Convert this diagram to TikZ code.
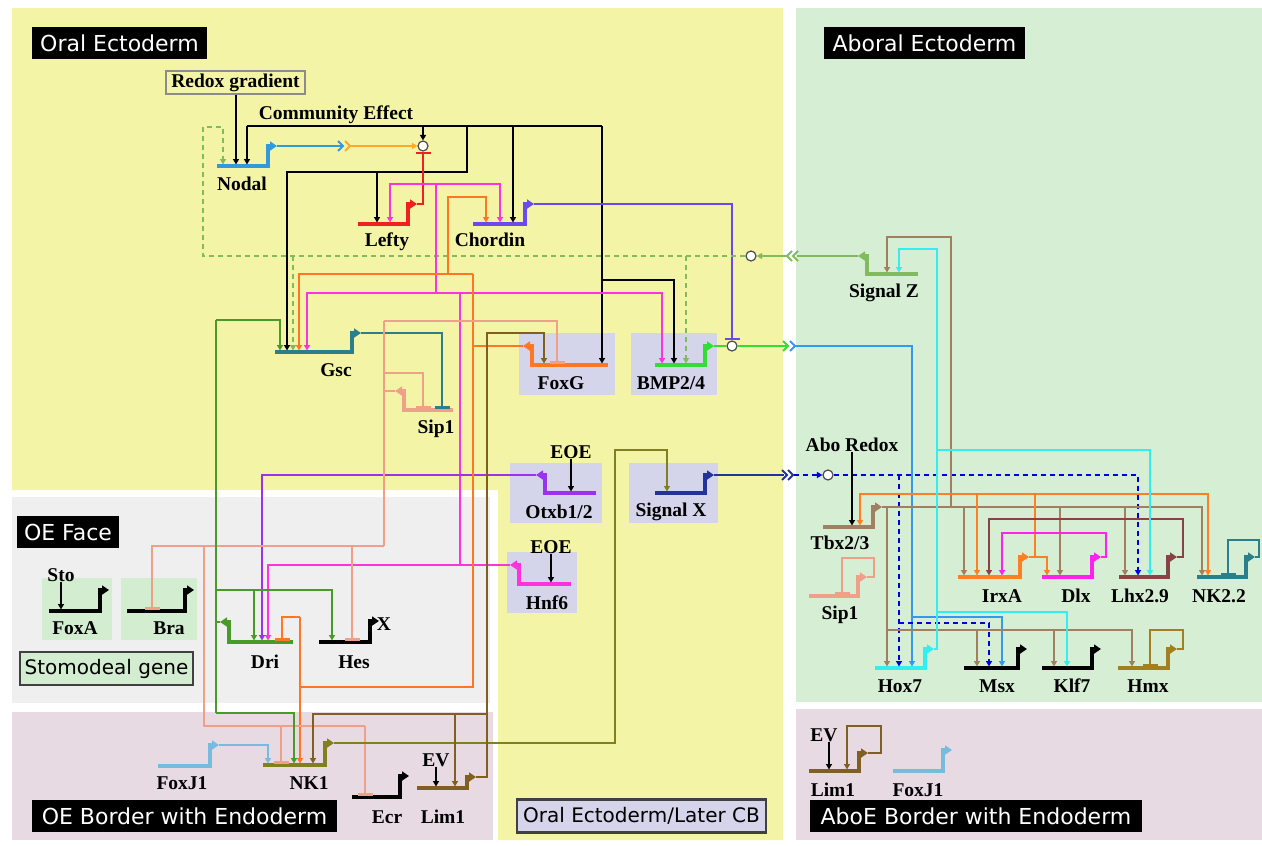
\documentclass[tikz,border=0pt]{standalone}
\usepackage{fontspec}
\setmainfont{Liberation Serif}
\newfontfamily\hdrfont{DejaVu Sans}
\usetikzlibrary{arrows.meta}
\definecolor{oebg}{HTML}{F4F4A6}
\definecolor{abobg}{HTML}{D6EED3}
\definecolor{facebg}{HTML}{EFEFEF}
\definecolor{bordbg}{HTML}{E8DAE3}
\definecolor{lav}{HTML}{D4D4EA}
\definecolor{boxgreen}{HTML}{D3EDD0}
\definecolor{cNodal}{HTML}{3399DD}
\definecolor{cNodalOr}{HTML}{FFAA22}
\definecolor{cLefty}{HTML}{EE2020}
\definecolor{cChordin}{HTML}{6A4AEE}
\definecolor{cGsc}{HTML}{2A7F8A}
\definecolor{cSip}{HTML}{F0A088}
\definecolor{cFoxG}{HTML}{FF7722}
\definecolor{cBmp}{HTML}{33DD33}
\definecolor{cBlue}{HTML}{3399EE}
\definecolor{cOtx}{HTML}{9933EE}
\definecolor{cSigX}{HTML}{223399}
\definecolor{cSigXd}{HTML}{0000DD}
\definecolor{cHnf}{HTML}{FF33DD}
\definecolor{cDri}{HTML}{4A9A2A}
\definecolor{cNK}{HTML}{808020}
\definecolor{cLim}{HTML}{806020}
\definecolor{cFoxJ}{HTML}{77BBDD}
\definecolor{cSigZ}{HTML}{80BB60}
\definecolor{cTbx}{HTML}{A08060}
\definecolor{cHox}{HTML}{33EEEE}
\definecolor{cIrx}{HTML}{FF7F22}
\definecolor{cDlx}{HTML}{FF22EE}
\definecolor{cLhx}{HTML}{884444}
\definecolor{cHmx}{HTML}{A08020}
\tikzset{
 link/.style={line width=2.1pt},
 act/.style={link,-{Triangle[length=5.5pt,width=6pt]}},
 rep/.style={link,-{Bar[width=15pt,line width=2.8pt]}},
 dlink/.style={dash pattern=on 5pt off 4pt},
 thinl/.style={line width=1.6pt},
 genebar/.style={line width=4pt,-{Triangle[length=7pt,width=9pt]}},
 glab/.style={font=\bfseries\fontsize{19.5}{20}\selectfont,inner sep=0pt},
 hdr/.style={fill=black,text=white,font=\hdrfont\fontsize{22}{23}\selectfont,inner sep=0pt,minimum height=32pt},
 lbox/.style={draw=black!75,line width=2.2pt,font=\hdrfont\fontsize{20}{21}\selectfont,inner sep=0pt,minimum height=33pt},
 bub/.style={circle,draw=black!70,fill=white,line width=1.2pt,minimum size=10pt,inner sep=0pt},
}
\newcommand\geneR[6]{%
 \draw[genebar,#2] (#3,#5) -- (#4,#5) -- (#4,#6) -- ++(9,0);
 \coordinate (#1) at (#3,{#5-1.5});
 \path (#4,#6) ++(9,0) coordinate (#1-tip);}
\newcommand\geneL[6]{%
 \draw[genebar,#2] (#4,#5) -- (#3,#5) -- (#3,#6) -- ++(-9,0);
 \coordinate (#1) at (#3,{#5-1.5});
 \path (#3,#6) ++(-9,0) coordinate (#1-tip);}
\begin{document}
\begin{tikzpicture}[x=1pt,y=-1pt,line join=miter]
\useasboundingbox (0,0) rectangle (1262,846);
\fill[white] (0,0) rectangle (1262,846);
% regions
\fill[oebg] (12,8) -- (783,8) -- (783,840) -- (498,840) -- (498,490) -- (12,490) -- cycle;
\fill[facebg] (12,497) rectangle (490,703);
\fill[bordbg] (12,712) rectangle (493,840);
\fill[abobg] (796,8) rectangle (1262,702);
\fill[bordbg] (796,709) rectangle (1262,840);
% shaded gene boxes
\fill[lav] (519,333) rectangle (615,395);
\fill[lav] (631,333) rectangle (717,395);
\fill[lav] (510,463) rectangle (602,523);
\fill[lav] (629,463) rectangle (718,523);
\fill[lav] (507,552) rectangle (577,613);
\fill[boxgreen] (42,578) rectangle (112,640);
\fill[boxgreen] (121,578) rectangle (197,640);
% headers
\node[hdr,minimum width=175pt] (h-oe) at (119.5,43) {Oral Ectoderm};
\node[hdr,minimum width=201pt] (h-abo) at (924.5,43) {Aboral Ectoderm};
\node[hdr,minimum width=102pt] (h-face) at (68,532) {OE Face};
\node[hdr,minimum width=305pt] (h-bord) at (184.5,816) {OE Border with Endoderm};
\node[hdr,minimum width=332pt] (h-abord) at (976,816) {AboE Border with Endoderm};
\node[lbox,fill=boxgreen,minimum width=173pt] (h-sto) at (106.5,668.5) {Stomodeal gene};
\node[lbox,fill=lav,minimum width=249pt] (h-cb) at (641.5,816) {Oral Ectoderm/Later CB};
% genes
\geneR{nodal}{cNodal}{217}{268}{166}{146}
\geneR{lefty}{cLefty}{358}{408}{224}{204}
\geneR{chordin}{cChordin}{473}{525}{224}{204}
\geneR{gsc}{cGsc}{275}{352}{352}{333}
\geneL{sip1o}{cSip}{404}{453}{410}{391}
\geneL{foxg}{cFoxG}{532}{608}{365}{346}
\geneR{bmp}{cBmp}{655}{705}{365}{346}
\geneL{otx}{cOtx}{545}{596}{493}{475}
\geneR{sigx}{cSigX}{655}{705}{493}{475}
\geneL{hnf6}{cHnf}{519}{571}{584}{565}
\geneR{foxa}{black}{49}{100}{611}{590}
\geneR{bra}{black}{127}{185}{611}{590}
\geneL{dri}{cDri}{229}{293}{642}{622}
\geneR{hes}{black}{319}{370}{642}{621}
\geneR{nk1}{cNK}{263}{325}{765}{743}
\geneR{foxj1o}{cFoxJ}{158}{210}{766}{745}
\geneR{ecr}{black}{352}{400}{797}{776}
\geneR{lim1o}{cLim}{417}{467}{788}{777}
\geneL{sigz}{cSigZ}{867}{918}{274}{256}
\geneR{tbx}{cTbx}{823}{873}{527}{507}
\geneR{sip1a}{cSip}{809}{858}{596}{577}
\geneR{irxa}{cIrx}{958}{1020}{577}{557}
\geneR{dlx}{cDlx}{1042}{1092}{577}{557}
\geneR{lhx}{cLhx}{1119}{1168}{577}{557}
\geneR{nk22}{cGsc}{1197}{1246}{577}{557}
\geneR{hox7}{cHox}{875}{925}{668}{649}
\geneR{msx}{black}{964}{1018}{668}{649}
\geneR{klf7}{black}{1042}{1092}{668}{649}
\geneR{hmx}{cHmx}{1118}{1168}{668}{649}
\geneR{lim1a}{cLim}{809}{859}{771}{753}
\geneR{foxj1a}{cFoxJ}{893}{943}{771}{750}
% bubbles
\node[bub] (bub1) at (423,146) {};
\node[bub] (bub2) at (732,346) {};
\node[bub] (bub3) at (751,256) {};
\node[bub] (bub4) at (828,475) {};
% inputs from environment
\node[draw=black!45,line width=2.4pt,fill=oebg,glab,minimum width=139pt,minimum height=23pt] (redox) at (235.5,82.5) {Redox gradient};
\draw[act] (redox.south-|236,0) -- (236,0|-nodal);
\node[glab] (ce) at (336,115) {Community Effect};
\coordinate (ceL) at (247,126);
\draw[link] (ceL) -- (602,126);
\draw[act] (ceL) -- (247,0|-nodal);
\draw[act] (423,126) -- (bub1.north);
\draw[act] (467,126) -- (467,172) -- (287,172) -- (287,0|-gsc);
\draw[act] (377,172) -- (377,0|-lefty);
\draw[act] (513,126) -- (513,0|-chordin);
\draw[act] (602,126) -- (602,0|-foxg);
\draw[act] (602,280) -- (674,280) -- (674,0|-bmp);
% Nodal out
\draw[link,cNodal] (nodal-tip) -- (342,146);
\draw[link,cNodal] (338,141) -- (343,146) -- (338,151);
\draw[link,cNodalOr] (345,141) -- (350,146) -- (345,151);
\draw[act,cNodalOr] (350,146) -- (bub1.west);
% Lefty out
\draw[rep,cLefty] (lefty-tip) -- (423,204) -- (bub1.south);
% Chordin out
\draw[rep,cChordin] (chordin-tip) -- (732,204) -- (bub2.north);
% BMP out
\draw[link,cBmp] (bmp-tip) -- (bub2.west);
\draw[link,cBmp] (bub2.east) -- (786,346);
\draw[link,cBmp] (783,341) -- (788,346) -- (783,351);
\draw[link,cBlue] (790,341) -- (795,346) -- (790,351);
\draw[act,cBlue] (795,346) -- (912,346) -- (912,0|-hox7);
\draw[act,cBlue] (912,617) -- (1002,617) -- (1002,0|-msx);
% Signal Z out
\draw[link,cSigZ] (sigz-tip) -- (797,256);
\draw[link,cSigZ] (798,251) -- (793,256) -- (798,261);
\draw[link,cSigZ] (792,251) -- (787,256) -- (792,261);
\draw[act,cSigZ] (787,256) -- (bub3.east);
\draw[act,link,dlink,cSigZ] (bub3.west) -- (203,256) -- (203,127) -- (223,127) -- (223,0|-nodal);
\draw[act,dlink,cSigZ] (293,256) -- (293,0|-gsc);
\draw[act,dlink,cSigZ] (686,256) -- (686,0|-bmp);
% Hnf6 out
\draw[act,cHnf] (hnf6-tip) -- (268,565) -- (268,0|-dri);
\draw[link,cHnf] (460,565) -- (460,293);
\draw[act,cHnf] (436,293) -- (307,293) -- (307,0|-gsc);
\draw[act,cHnf] (436,293) -- (662,293) -- (662,0|-bmp);
\draw[link,cHnf] (436,293) -- (436,184);
\draw[act,cHnf] (436,184) -- (390,184) -- (390,0|-lefty);
\draw[act,cHnf] (436,184) -- (500,184) -- (500,0|-chordin);
% Otx out
\draw[act,cOtx] (otx-tip) -- (262,475) -- (262,0|-dri);
% FoxG out
\draw[link,cFoxG] (foxg-tip) -- (473,346);
\draw[link,cFoxG] (473,274) -- (473,687) -- (300,687);
\draw[act,cFoxG] (473,274) -- (299,274) -- (299,0|-gsc);
\draw[act,cFoxG] (448,274) -- (448,197) -- (486,197) -- (486,0|-chordin);
\draw[act,cFoxG] (300,617) -- (300,0|-nk1);
\draw[rep,cFoxG] (300,617) -- (282,617) -- (282,0|-dri);
% Gsc out
\draw[rep,cGsc] (gsc-tip) -- (442,333) -- (442,0|-sip1o);
% Sip1 (oral) out
\draw[link,thinl,cSip] (sip1o-tip) -- (384,391);
\draw[link,thinl,cSip] (384,321) -- (384,546);
\draw[rep,thinl,cSip] (384,321) -- (557,321) -- (557,0|-foxg);
\draw[rep,thinl,cSip] (384,373) -- (423,373) -- (423,0|-sip1o);
\draw[rep,thinl,cSip] (384,546) -- (152,546) -- (152,0|-bra);
\draw[rep,thinl,cSip] (352,546) -- (352,0|-hes);
\draw[link,thinl,cSip] (204,546) -- (204,726) -- (365,726);
\draw[rep,thinl,cSip] (365,726) -- (365,0|-ecr);
\draw[rep,thinl,cSip] (281,726) -- (281,0|-nk1);
% Dri out
\draw[link,cDri] (dri-tip) -- (216,622);
\draw[link,cDri] (216,320) -- (216,713);
\draw[act,cDri] (216,320) -- (280,320) -- (280,0|-gsc);
\draw[act,cDri] (216,590) -- (332,590) -- (332,0|-hes);
\draw[act,cDri] (254,590) -- (254,0|-dri);
\draw[act,cDri] (216,713) -- (294,713) -- (294,0|-nk1);
% NK1 out
\draw[act,cNK] (nk1-tip) -- (615,743) -- (615,450) -- (667,450) -- (667,0|-sigx);
% Lim1 (oral) out
\draw[act,cLim] (lim1o-tip) -- (487,777) -- (487,333) -- (544,333) -- (544,0|-foxg);
\draw[act,cLim] (487,714) -- (313,714) -- (313,0|-nk1);
\draw[act,cLim] (455,714) -- (455,0|-lim1o);
% FoxJ1 (oral) out
\draw[act,cFoxJ] (foxj1o-tip) -- (268,745) -- (268,0|-nk1);
% small inputs
\node[glab] (ev1) at (436,760) {EV};
\draw[act] (ev1.south) -- (436,0|-lim1o);
\node[glab] (sto) at (61,575) {Sto};
\draw[act] (sto.south) -- (61,0|-foxa);
\node[glab] (eoe1) at (571,452) {EOE};
\draw[act] (eoe1.south) -- (571,0|-otx);
\node[glab] (eoe2) at (551,547) {EOE};
\draw[act] (eoe2.south) -- (551,0|-hnf6);
% Signal X out
\draw[link,cSigX] (sigx-tip) -- (784,475);
\draw[link,cSigX] (782,470) -- (787,475) -- (782,480);
\draw[link,cSigX] (788,470) -- (793,475) -- (788,480);
\draw[act,dlink,cSigXd] (794,475) -- (bub4.west);
\draw[act,dlink,cSigXd] (bub4.east) -- (1138,475) -- (1138,0|-lhx);
\draw[act,dlink,cSigXd] (899,475) -- (899,0|-hox7);
\draw[act,dlink,cSigXd] (899,623) -- (989,623) -- (989,0|-msx);
% Abo Redox
\node[glab] (aboredox) at (852,445) {Abo Redox};
\draw[act] (aboredox.south) -- (852,0|-tbx);
% Tbx2/3 out
\draw[act,thinl,cTbx] (tbx-tip) -- (1202,507) -- (1202,0|-nk22);
\draw[act,thinl,cTbx] (887,507) -- (887,0|-hox7);
\draw[act,thinl,cTbx] (887,630) -- (1132,630) -- (1132,0|-hmx);
\draw[act,thinl,cTbx] (977,630) -- (977,0|-msx);
\draw[act,thinl,cTbx] (1054,630) -- (1054,0|-klf7);
\draw[act,thinl,cTbx] (964,507) -- (964,0|-irxa);
\draw[act,thinl,cTbx] (1060,507) -- (1060,0|-dlx);
\draw[act,thinl,cTbx] (1125,507) -- (1125,0|-lhx);
\draw[act,thinl,cTbx] (951,507) -- (951,237) -- (887,237) -- (887,0|-sigz);
% IrxA out
\draw[link,cIrx] (irxa-tip) -- (1035,557) -- (1035,494);
\draw[act,cIrx] (1035,557) -- (1047,557) -- (1047,0|-dlx);
\draw[act,cIrx] (1035,494) -- (860,494) -- (860,0|-tbx);
\draw[act,cIrx] (1035,494) -- (1208,494) -- (1208,0|-nk22);
\draw[act,cIrx] (977,494) -- (977,0|-irxa);
% Lhx2.9 out
\draw[act,cLhx] (lhx-tip) -- (1183,557) -- (1183,519) -- (989,519) -- (989,0|-irxa);
% Dlx out
\draw[act,cDlx] (dlx-tip) -- (1106,557) -- (1106,533) -- (1002,533) -- (1002,0|-irxa);
% NK2.2 self
\draw[rep,cGsc] (nk22-tip) -- (1259,557) -- (1259,540) -- (1228,540) -- (1228,0|-nk22);
% Hox7 out
\draw[act,cHox] (hox7-tip) -- (937,649) -- (937,249) -- (899,249) -- (899,0|-sigz);
\draw[act,cHox] (937,450) -- (1150,450) -- (1150,0|-lhx);
\draw[act,cHox] (937,612) -- (1067,612) -- (1067,0|-klf7);
% Hmx self
\draw[rep,cHmx] (hmx-tip) -- (1183,649) -- (1183,630) -- (1150,630) -- (1150,0|-hmx);
% Sip1 aboral self
\draw[rep,thinl,cSip] (sip1a-tip) -- (874,577) -- (874,558) -- (842,558) -- (842,0|-sip1a);
% Lim1 aboral self
\draw[act,cLim] (lim1a-tip) -- (881,753) -- (881,726) -- (847,726) -- (847,0|-lim1a);
\node[glab] (ev2) at (824,735) {EV};
\draw[act] (ev2.south-|829,0) -- (829,0|-lim1a);
% gene labels
\node[glab] (l-nodal) at (242,184) {Nodal};
\node[glab] (l-lefty) at (387,242) {Lefty};
\node[glab] (l-chordin) at (490,240) {Chordin};
\node[glab] (l-gsc) at (336,370) {Gsc};
\node[glab] (l-sip1o) at (436,429) {Sip1};
\node[glab] (l-foxg) at (561,383) {FoxG};
\node[glab] (l-bmp) at (671,383) {BMP2/4};
\node[glab] (l-otx) at (559,512) {Otxb1/2};
\node[glab] (l-sigx) at (671,512) {Signal X};
\node[glab] (l-hnf6) at (547,603) {Hnf6};
\node[glab] (l-foxa) at (75,628) {FoxA};
\node[glab] (l-bra) at (169,628) {Bra};
\node[glab] (l-dri) at (265,662) {Dri};
\node[glab] (l-hes) at (354,662) {Hes};
\node[glab] (l-x) at (384,624) {X};
\node[glab] (l-nk1) at (309,783) {NK1};
\node[glab] (l-foxj1o) at (182,783) {FoxJ1};
\node[glab] (l-ecr) at (387,817) {Ecr};
\node[glab] (l-lim1o) at (443,817) {Lim1};
\node[glab] (l-sigz) at (884,293) {Signal Z};
\node[glab] (l-tbx) at (840,543) {Tbx2/3};
\node[glab] (l-sip1a) at (840,615) {Sip1};
\node[glab] (l-irxa) at (1002,596) {IrxA};
\node[glab] (l-dlx) at (1076,596) {Dlx};
\node[glab] (l-lhx) at (1140,596) {Lhx2.9};
\node[glab] (l-nk22) at (1219,596) {NK2.2};
\node[glab] (l-hox7) at (900,686) {Hox7};
\node[glab] (l-msx) at (997,686) {Msx};
\node[glab] (l-klf7) at (1072,686) {Klf7};
\node[glab] (l-hmx) at (1148,686) {Hmx};
\node[glab] (l-lim1a) at (833,790) {Lim1};
\node[glab] (l-foxj1a) at (918,790) {FoxJ1};
\end{tikzpicture}
\end{document}
